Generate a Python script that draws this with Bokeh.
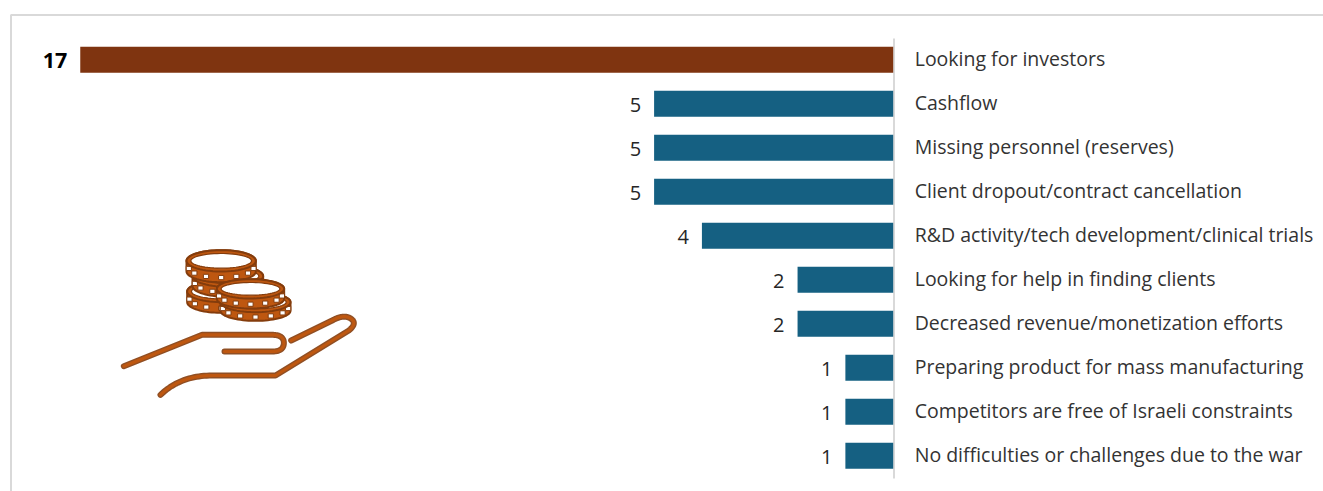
import numpy as np
from bokeh.core.properties import value
from bokeh.embed import file_html
from bokeh.models import ColumnDataSource, Range1d
from bokeh.plotting import figure
from bokeh.resources import INLINE

categories = [
    "Looking for investors",
    "Cashflow",
    "Missing personnel (reserves)",
    "Client dropout/contract cancellation",
    "R&D activity/tech development/clinical trials",
    "Looking for help in finding clients",
    "Decreased revenue/monetization efforts",
    "Preparing product for mass manufacturing",
    "Competitors are free of Israeli constraints",
    "No difficulties or challenges due to the war",
]
counts = [17, 5, 5, 5, 4, 2, 2, 1, 1, 1]

W, H = 1323, 491
FONT = "Open Sans"
BROWN = "#7F3410"
TEAL = "#156082"
GRID = "#D9D9D9"
ICON_DARK = "#843C0C"
ICON_MID = "#BE5710"

# Value axis: 47.82 px per unit with zero at x=892.7; rows are 44 px apart.
PX_PER_UNIT = 47.82
ZERO_X = 892.7
ROW_PX = 44
FIRST_ROW_Y = 59.3

p = figure(
    width=W, height=H, output_backend="svg", toolbar_location=None,
    x_range=Range1d(ZERO_X / PX_PER_UNIT, (ZERO_X - W) / PX_PER_UNIT),
    y_range=Range1d((H - FIRST_ROW_Y) / ROW_PX, -FIRST_ROW_Y / ROW_PX),
    min_border=0, background_fill_color="white", border_fill_color="white",
    outline_line_color=None,
)
p.extra_x_ranges["px"] = Range1d(0, W)
p.extra_y_ranges["px"] = Range1d(H, 0)
p.xaxis.visible = False
p.yaxis.visible = False
p.xgrid.visible = False
p.ygrid.visible = False

px = dict(x_range_name="px", y_range_name="px")

# Panel border on the top and left
p.line([10.5, 10.5, W], [H, 14.5, 14.5], line_color=GRID, line_width=2, **px)
# Zero baseline
p.line([893.5, 893.5], [38, 478], line_color=GRID, line_width=2, **px)

rows = list(range(len(categories)))
source = ColumnDataSource(dict(
    row=rows,
    count=counts,
    zero=[0] * len(counts),
    label=[str(c) for c in counts],
    category=categories,
    color=[BROWN if c == max(counts) else TEAL for c in counts],
    weight=["bold" if c == max(counts) else "normal" for c in counts],
    size=["21.5px" if c == max(counts) else "20px" for c in counts],
    label_color=["#000000" if c == max(counts) else "#262626" for c in counts],
))

p.hbar(y="row", left="zero", right="count", height=26 / ROW_PX,
       fill_color="color", line_color=None, source=source)
p.text(x="count", y="row", text="label", source=source, text_align="right",
       text_baseline="middle", x_offset=-13, y_offset=1, text_font=value(FONT),
       text_font_size="size", text_font_style="weight", text_color="label_color")
p.text(x="zero", y="row", text="category", source=source, text_align="left",
       text_baseline="middle", x_offset=21.5, y_offset=-1.5, text_font=value(FONT),
       text_font_size="19.5px", text_color="#333333")


# Icon: a hand holding a stack of coins, sized in page pixels
def icon_xy(points):
    pts = np.asarray(points, dtype=float)
    return 100 + pts[:, 0] / 3, 235 + pts[:, 1] / 3


def bezier(a, b, c, n=24):
    t = np.linspace(0, 1, n)[:, None]
    a, b, c = map(np.asarray, (a, b, c))
    return (1 - t) ** 2 * a + 2 * t * (1 - t) * b + t ** 2 * c


def stroke(points):
    x, y = icon_xy(points)
    p.line(x, y, line_color=ICON_DARK, line_width=6, line_cap="round",
           line_join="round", line_alpha=0.9, **px)
    p.line(x, y, line_color=ICON_MID, line_width=3.2, line_cap="round",
           line_join="round", **px)


def ellipse_arc(cx, cy, rx, ry, t0, t1, n=40):
    t = np.linspace(t0, t1, n)
    return np.column_stack([cx + rx * np.cos(t), cy + ry * np.sin(t)])


def coin(cx, cy, rx, ry, depth):
    lower = ellipse_arc(cx, cy + depth, rx, ry, 0, np.pi)
    upper = ellipse_arc(cx, cy, rx, ry, np.pi, 2 * np.pi)
    x, y = icon_xy(np.vstack([lower, upper]))
    p.patch(x, y, fill_color=ICON_MID, line_color=ICON_DARK, line_width=2, **px)
    # Reeded edge of the coin
    t = np.linspace(0.12, np.pi - 0.12, 7)
    sx, sy = icon_xy(np.column_stack([cx + rx * 0.94 * np.cos(t),
                                      cy + depth * 0.6 + ry * 0.97 * np.sin(t)]))
    p.rect(sx, sy, width=5.2, height=4.2, fill_color="white", line_color=ICON_DARK,
           line_width=1.0, **px)
    x, y = icon_xy(ellipse_arc(cx, cy, rx, ry, 0, 2 * np.pi, 60))
    p.patch(x, y, fill_color=ICON_MID, line_color=ICON_DARK, line_width=2, **px)
    x, y = icon_xy(ellipse_arc(cx, cy, rx - 13, ry - 10, 0, 2 * np.pi, 60))
    p.patch(x, y, fill_color="white", line_color=ICON_DARK, line_width=1.2, **px)


coin(362, 168, 102, 32, 32)
coin(382, 122, 106, 32, 30)
coin(362, 76, 104, 32, 32)
coin(465, 200, 105, 30, 26)
coin(450, 160, 101, 29, 30)

stroke(np.vstack([
    [[70, 392], [305, 298], [515, 298]],
    bezier([515, 298], [552, 298], [550, 325]),
    bezier([550, 325], [548, 348], [515, 348]),
    [[372, 348]],
]))
stroke(np.vstack([
    bezier([180, 478], [240, 420], [335, 420]),
    [[525, 420], [745, 285]],
    bezier([745, 285], [775, 260], [745, 246]),
    bezier([745, 246], [725, 238], [695, 255]),
    [[572, 315]],
]))

open("out.html", "w").write(file_html(p, INLINE))
